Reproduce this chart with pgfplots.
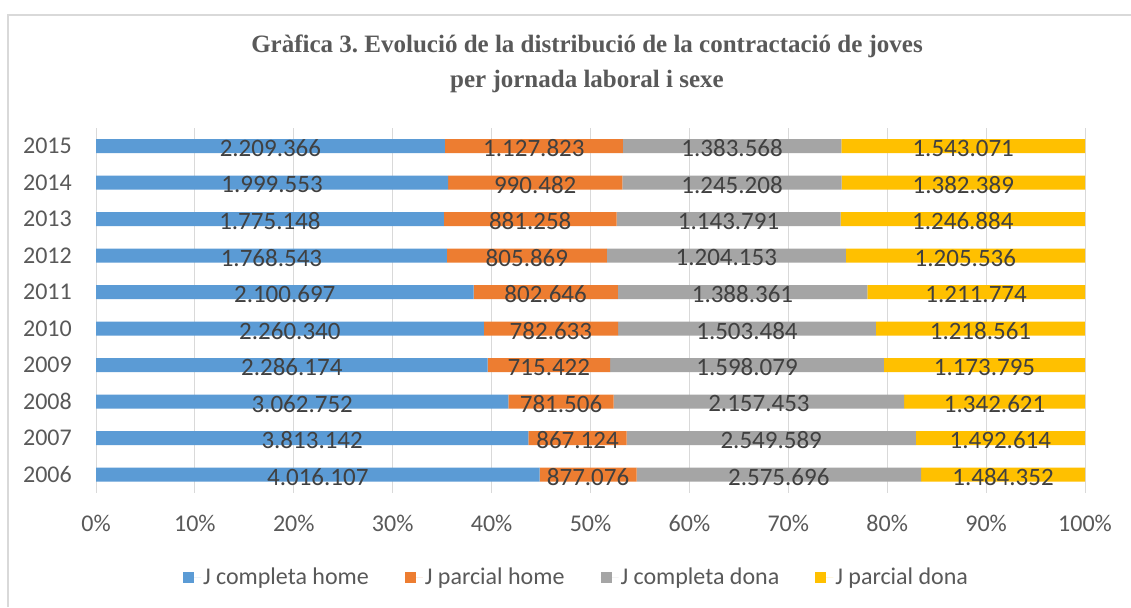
\documentclass[border=0pt]{standalone}
\usepackage{fontspec}
\setmainfont{Carlito}
\newfontfamily\titlefont{Liberation Serif}
\usepackage{pgfplots}
\pgfplotsset{compat=1.18}
\usepackage{pgfplotstable}
\frenchspacing
\definecolor{cA}{HTML}{5B9BD5}
\definecolor{cB}{HTML}{ED7D31}
\definecolor{cC}{HTML}{A5A5A5}
\definecolor{cD}{HTML}{FFC000}
\definecolor{gridc}{HTML}{D9D9D9}
\definecolor{tickc}{HTML}{595959}
\definecolor{labc}{HTML}{404040}

\pgfplotstableread{
year a b c d la lb lc ld
2006 4016107 877076 2575696 1484352 4.016.107 877.076 2.575.696 1.484.352
2007 3813142 867124 2549589 1492614 3.813.142 867.124 2.549.589 1.492.614
2008 3062752 781506 2157453 1342621 3.062.752 781.506 2.157.453 1.342.621
2009 2286174 715422 1598079 1173795 2.286.174 715.422 1.598.079 1.173.795
2010 2260340 782633 1503484 1218561 2.260.340 782.633 1.503.484 1.218.561
2011 2100697 802646 1388361 1211774 2.100.697 802.646 1.388.361 1.211.774
2012 1768543 805869 1204153 1205536 1.768.543 805.869 1.204.153 1.205.536
2013 1775148 881258 1143791 1246884 1.775.148 881.258 1.143.791 1.246.884
2014 1999553 990482 1245208 1382389 1.999.553 990.482 1.245.208 1.382.389
2015 2209366 1127823 1383568 1543071 2.209.366 1.127.823 1.383.568 1.543.071
}\data

\newcommand{\tot}{(\thisrow{a}+\thisrow{b}+\thisrow{c}+\thisrow{d})}

\pgfplotsset{
  base/.style={
    scale only axis, width=989pt, height=365pt,
    at={(96pt,114pt)}, anchor=south west,
    xmin=0, xmax=100, ymin=2005.5, ymax=2015.5,
    enlargelimits=false,
  }
}

\begin{document}
\begin{tikzpicture}
\useasboundingbox (0,0) rectangle (1131pt,607pt);
\fill[white] (0,0) rectangle (1131pt,607pt);
\draw[gridc, line width=1.3pt] (8pt,0) -- (8pt,592pt) -- (1131pt,592pt);
\node[font=\titlefont\bfseries\fontsize{25}{35}\selectfont, text=tickc, align=center] at (587pt,543pt)
  {Gràfica 3. Evolució de la distribució de la contractació de joves\\per jornada laboral i sexe};

\begin{axis}[base,
  xbar stacked, bar width=14pt,
  axis line style={draw=none},
  major tick length=0pt,
  xmajorgrids, major grid style={gridc, line width=1pt},
  xtick={0,10,...,100},
  xticklabels={0\%,10\%,20\%,30\%,40\%,50\%,60\%,70\%,80\%,90\%,100\%},
  ytick={2006,...,2015},
  yticklabels={2006,2007,2008,2009,2010,2011,2012,2013,2014,2015},
  tick label style={font=\fontsize{24}{28}\selectfont, text=tickc},
  yticklabel style={anchor=east, inner sep=0pt, xshift=-24pt},
  xticklabel style={anchor=north, inner sep=0pt, yshift=-22pt},
  legend columns=4,
  legend style={at={(0.5,0)}, anchor=center, yshift=-84pt, xshift=-14pt, draw=none, fill=none,
    font=\fontsize{24}{28}\selectfont, text=tickc,
    /tikz/every even column/.append style={column sep=34pt}},
  legend image code/.code={\fill[#1] (0pt,-5.5pt) rectangle (11pt,5.5pt); \path (0pt,0pt) -- (18pt,0pt);},
]
\addplot[fill=cA, draw=none] table[x expr={\thisrow{a}/\tot*100}, y=year]{\data};
\addplot[fill=cB, draw=none] table[x expr={\thisrow{b}/\tot*100}, y=year]{\data};
\addplot[fill=cC, draw=none] table[x expr={\thisrow{c}/\tot*100}, y=year]{\data};
\addplot[fill=cD, draw=none] table[x expr={\thisrow{d}/\tot*100}, y=year]{\data};
\legend{J completa home, J parcial home, J completa dona, J parcial dona}
\end{axis}

\begin{axis}[base, hide axis,
  every node near coord/.append style={anchor=center, font=\fontsize{25}{28}\selectfont, text=labc, yshift=-2pt, inner sep=0pt},
]
\addplot[draw=none, mark=none, nodes near coords, point meta=explicit symbolic]
  table[x expr={(\thisrow{a}/2)/\tot*100}, y=year, meta=la]{\data};
\addplot[draw=none, mark=none, nodes near coords, point meta=explicit symbolic]
  table[x expr={(\thisrow{a}+\thisrow{b}/2)/\tot*100}, y=year, meta=lb]{\data};
\addplot[draw=none, mark=none, nodes near coords, point meta=explicit symbolic]
  table[x expr={(\thisrow{a}+\thisrow{b}+\thisrow{c}/2)/\tot*100}, y=year, meta=lc]{\data};
\addplot[draw=none, mark=none, nodes near coords, point meta=explicit symbolic]
  table[x expr={(\thisrow{a}+\thisrow{b}+\thisrow{c}+\thisrow{d}/2)/\tot*100}, y=year, meta=ld]{\data};
\end{axis}
\end{tikzpicture}
\end{document}
